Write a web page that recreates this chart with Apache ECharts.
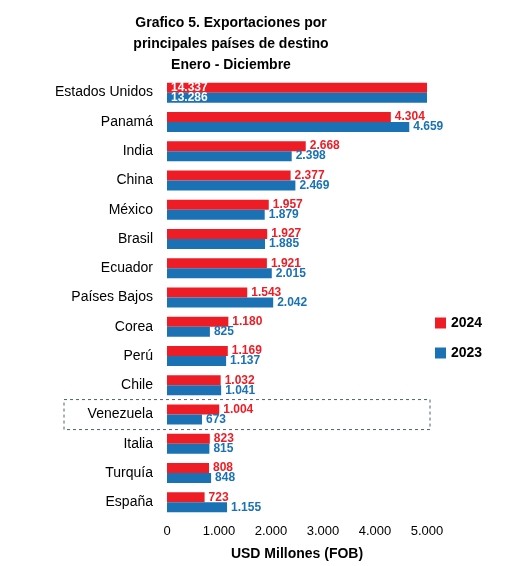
<!DOCTYPE html>
<html><head><meta charset="utf-8">
<script src="https://cdn.jsdelivr.net/npm/echarts@6/dist/echarts.min.js"></script>
<style>html,body{margin:0;background:#fff}#c{width:512px;height:566px}</style>
</head><body><div id="c"></div>
<script>
const categories=["Estados Unidos","Panamá","India","China","México","Brasil","Ecuador","Países Bajos","Corea","Perú","Chile","Venezuela","Italia","Turquía","España"];
const v2024=[14337,4304,2668,2377,1957,1927,1921,1543,1180,1169,1032,1004,823,808,723];
const v2023=[13286,4659,2398,2469,1879,1885,2015,2042,825,1137,1041,673,815,848,1155];
const xTicks=[0,1000,2000,3000,4000,5000];
const AXMAX=5000;
const RED="#ee1c25",BLUE="#1a72b5";
const fmt=n=>String(n).replace(/\B(?=(\d{3})+(?!\d))/g,".");
function mk(vals,color){
  return vals.map(v=>v>AXMAX?{value:AXMAX,label:{position:"insideLeft",color:"#fff",formatter:fmt(v)}}:{value:v});
}
const ch=echarts.init(document.getElementById("c"));
const F="Liberation Sans";
ch.setOption({
  animation:false,
  textStyle:{fontFamily:F},
  title:{text:"Grafico 5. Exportaciones por\nprincipales países de destino\nEnero - Diciembre",left:226,top:8,textAlign:"center",
    textStyle:{fontSize:14,fontWeight:"bold",lineHeight:21,color:"#000",fontFamily:F}},
  legend:{orient:"vertical",left:430,top:311,itemWidth:11,itemHeight:11,itemGap:16,icon:"rect",
    textStyle:{fontSize:14,fontWeight:"bold",color:"#000"},data:["2024","2023"]},
  grid:{left:167,right:85,top:78,bottom:45},
  xAxis:{type:"value",min:0,max:AXMAX,interval:1000,splitLine:{show:false},axisLine:{show:false},axisTick:{show:false},
    axisLabel:{fontSize:13,color:"#000",formatter:v=>xTicks.includes(v)?fmt(v):""},
    name:"USD Millones (FOB)",nameLocation:"middle",nameGap:30,nameTextStyle:{fontSize:14,fontWeight:"bold",color:"#000"}},
  yAxis:{type:"category",inverse:true,data:categories,axisLine:{show:false},axisTick:{show:false},
    axisLabel:{fontSize:14,color:"#000",margin:14}},
  series:[
    {name:"2024",type:"bar",data:mk(v2024),itemStyle:{color:RED},barWidth:10,barGap:"0%",
      label:{show:true,position:"right",distance:4,color:RED,fontWeight:"bold",fontSize:12,formatter:p=>fmt(p.value)}},
    {name:"2023",type:"bar",data:mk(v2023),itemStyle:{color:BLUE},barWidth:10,
      label:{show:true,position:"right",distance:4,color:BLUE,fontWeight:"bold",fontSize:12,formatter:p=>fmt(p.value)}}
  ]
});
const yv=ch.convertToPixel({yAxisIndex:0},"Venezuela");
ch.setOption({graphic:[{type:"rect",shape:{x:64,y:yv-15,width:366,height:30},
  style:{fill:"none",stroke:"#4a6272",lineWidth:1,lineDash:[3,3]}}]});
</script></body></html>
